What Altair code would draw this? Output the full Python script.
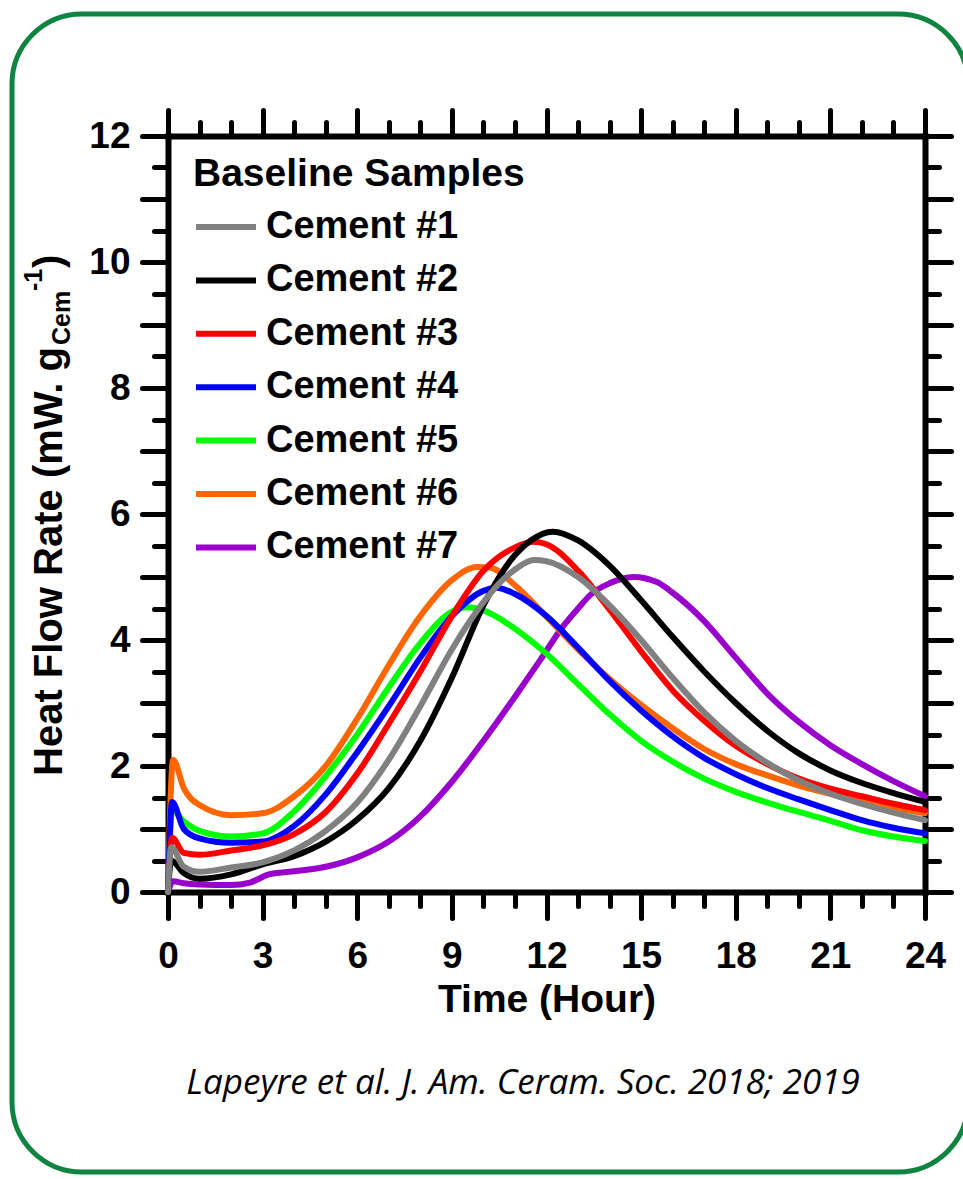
import altair as alt
import pandas as pd

names = ["Cement #1", "Cement #2", "Cement #3", "Cement #4", "Cement #5", "Cement #6", "Cement #7"]
colors = ["#808080", "#000000", "#ff0000", "#0000ff", "#00ff00", "#ff6600", "#9900cc"]

# Cement #1 (gray)
t1 = [0, 0.1, 0.5, 1, 2, 3, 4, 5, 6, 7, 8, 9, 10, 10.6, 11, 11.6, 12, 13, 14, 15, 16, 17, 18, 19, 20, 21, 22, 23, 24]
v1 = [0, 0.71, 0.40, 0.32, 0.39, 0.47, 0.66, 0.97, 1.42, 2.1, 2.95, 3.85, 4.6, 4.95, 5.12, 5.27, 5.25, 5.0, 4.55, 4.0, 3.4, 2.85, 2.4, 2.05, 1.77, 1.56, 1.4, 1.26, 1.14]
# Cement #2 (black)
t2 = [0, 0.1, 0.5, 1, 2, 3, 4, 5, 6, 7, 8, 9, 10, 10.5, 11, 11.5, 12.2, 13, 14, 15, 16, 17, 18, 19, 20, 21, 22, 23, 24]
v2 = [0, 0.5, 0.30, 0.21, 0.28, 0.44, 0.57, 0.80, 1.15, 1.65, 2.4, 3.4, 4.55, 5.0, 5.35, 5.58, 5.72, 5.58, 5.18, 4.63, 4.05, 3.5, 3.0, 2.56, 2.2, 1.93, 1.73, 1.57, 1.43]
# Cement #3 (red)
t3 = [0, 0.13, 0.5, 1, 2, 3, 4, 5, 6, 7, 8, 9, 10, 11, 11.6, 12, 13, 14, 15, 16, 17, 18, 19, 20, 21, 22, 23, 24]
v3 = [0, 0.86, 0.62, 0.59, 0.66, 0.74, 0.92, 1.27, 1.88, 2.67, 3.5, 4.38, 5.1, 5.47, 5.56, 5.52, 5.1, 4.48, 3.82, 3.2, 2.72, 2.32, 2.03, 1.8, 1.64, 1.52, 1.4, 1.30]
# Cement #4 (blue)
t4 = [0, 0.13, 0.5, 1, 2, 3, 4, 5, 6, 7, 8, 9, 10, 10.4, 11, 12, 13, 14, 15, 16, 17, 18, 19, 20, 21, 22, 23, 24]
v4 = [0, 1.43, 1.0, 0.85, 0.78, 0.80, 1.05, 1.55, 2.22, 2.95, 3.72, 4.38, 4.78, 4.83, 4.73, 4.38, 3.88, 3.35, 2.88, 2.47, 2.13, 1.87, 1.65, 1.47, 1.3, 1.14, 1.02, 0.93]
# Cement #5 (green)
t5 = [0, 0.13, 0.5, 1, 2, 3, 4, 5, 6, 7, 8, 9, 9.5, 10, 11, 12, 13, 14, 15, 16, 17, 18, 19, 20, 21, 22, 23, 24]
v5 = [0, 1.3, 1.12, 0.97, 0.88, 0.93, 1.28, 1.84, 2.5, 3.25, 3.95, 4.45, 4.52, 4.47, 4.18, 3.78, 3.3, 2.82, 2.4, 2.07, 1.8, 1.59, 1.42, 1.27, 1.13, 0.98, 0.88, 0.81]
# Cement #6 (orange)
t6 = [0, 0.16, 0.5, 1, 2, 3, 4, 5, 6, 7, 8, 9, 9.8, 10.2, 11, 12, 13, 14, 15, 16, 17, 18, 19, 20, 21, 22, 23, 24]
v6 = [0, 2.1, 1.65, 1.38, 1.22, 1.25, 1.52, 2.0, 2.75, 3.6, 4.38, 4.95, 5.16, 5.15, 4.87, 4.37, 3.85, 3.38, 2.97, 2.6, 2.27, 2.03, 1.85, 1.69, 1.56, 1.45, 1.34, 1.25]
# Cement #7 (purple)
t7 = [0, 0.16, 0.5, 1, 2, 2.6, 3.2, 3.6, 4, 5, 6, 7, 8, 9, 10, 11, 11.8, 12.5, 13, 13.4, 14, 14.75, 15.5, 16, 17, 18, 19, 20, 21, 22, 23, 24]
v7 = [0, 0.17, 0.14, 0.12, 0.11, 0.15, 0.28, 0.31, 0.33, 0.40, 0.55, 0.80, 1.2, 1.75, 2.4, 3.1, 3.68, 4.2, 4.5, 4.72, 4.9, 5.0, 4.92, 4.75, 4.3, 3.72, 3.15, 2.7, 2.33, 2.03, 1.76, 1.52]

x_major = list(range(0, 25, 3))
x_minor = list(range(0, 25))
y_major = list(range(0, 13))
y_minor = [i * 0.5 for i in range(25)]

legend_title = "Baseline Samples"
x_title = "Time (Hour)"
y_title_main = "Heat Flow Rate (mW. g"
y_title_sub = "Cem"
y_title_sup = "-1"
y_title_end = ")"
citation = "Lapeyre et al. J. Am. Ceram. Soc. 2018; 2019"

series = [(names[0], t1, v1), (names[1], t2, v2), (names[2], t3, v3), (names[3], t4, v4),
          (names[4], t5, v5), (names[5], t6, v6), (names[6], t7, v7)]
rows = []
for n, ts, vs in reversed(series):
    for t, v in zip(ts, vs):
        rows.append({"series": n, "t": t, "v": v})
df = pd.DataFrame(rows)

FONT = "Liberation Sans"
xs = alt.Scale(domain=[0, 24], nice=False, zero=False)
ys = alt.Scale(domain=[0, 12], nice=False, zero=False)

common = dict(domainColor="black", domainWidth=6, domainCap="square", tickColor="black",
              tickWidth=5, tickCap="round", grid=False, labelFlush=False, labelOverlap=False)

lines = alt.Chart(df).mark_line(strokeWidth=6, interpolate="monotone", strokeCap="round", strokeJoin="round").encode(
    x=alt.X("t:Q", scale=xs, axis=alt.Axis(orient="bottom", values=x_major, tickSize=26,
            labelFont=FONT, labelFontSize=37, labelFontWeight="bold", labelColor="black", labelPadding=20,
            title=x_title, titleFont=FONT, titleFontSize=39, titleFontWeight="bold", titleColor="black",
            titlePadding=6, **common)),
    y=alt.Y("v:Q", scale=ys, axis=alt.Axis(orient="left", values=y_major, tickSize=26,
            labelExpr="datum.value % 2 == 0 ? datum.label : ''",
            labelFont=FONT, labelFontSize=37, labelFontWeight="bold", labelColor="black", labelPadding=12,
            title=None, **common)),
    color=alt.Color("series:N", scale=alt.Scale(domain=names, range=colors),
                    legend=alt.Legend(orient="none", legendX=25, legendY=19, padding=0,
                                      title=legend_title, titleFont=FONT, titleFontSize=39,
                                      titleFontWeight="bold", titleColor="black", titlePadding=0,
                                      titleLimit=0,
                                      labelFont=FONT, labelFontSize=38, labelFontWeight="bold",
                                      labelColor="black", labelOffset=7, labelLimit=0,
                                      symbolType="stroke", symbolStrokeWidth=6, symbolSize=3600,
                                      rowPadding=1.4)),
)

def tick_layer(xaxis, yaxis):
    return alt.Chart(df).mark_line(opacity=0).encode(
        x=alt.X("t:Q", scale=xs, axis=xaxis),
        y=alt.Y("v:Q", scale=ys, axis=yaxis),
    )

minor_bl = tick_layer(
    alt.Axis(orient="bottom", values=x_minor, tickSize=14, labels=False, domain=False, title=None, **common),
    alt.Axis(orient="left", values=y_minor, tickSize=14, labels=False, domain=False, title=None, **common),
)
major_tr = tick_layer(
    alt.Axis(orient="top", values=x_major, tickSize=26, labels=False, title=None, **common),
    alt.Axis(orient="right", values=y_major, tickSize=26, labels=False, title=None, **common),
)
minor_tr = tick_layer(
    alt.Axis(orient="top", values=x_minor, tickSize=14, labels=False, domain=False, title=None, **common),
    alt.Axis(orient="right", values=y_minor, tickSize=14, labels=False, domain=False, title=None, **common),
)

one = alt.Data(values=[{"a": 1}])

border = alt.Chart(one).mark_rect(cornerRadius=70, fill="white", fillOpacity=0, stroke="#0e8440",
                                  strokeWidth=5).encode(
    x=alt.value(-156), x2=alt.value(800), y=alt.value(-122), y2=alt.value(1036))

def txt(text, x, y, size, align, angle=0, style="normal", weight="bold", font=FONT, baseline="alphabetic"):
    return alt.Chart(one).mark_text(text=text, fontSize=size, font=font, fontWeight=weight, fontStyle=style,
                                    align=align, baseline=baseline, angle=angle, color="black").encode(
        x=alt.value(x), y=alt.value(y))

yt_main = txt(y_title_main, -106, 211, 40, "right", angle=270)
yt_sub = txt(y_title_sub, -98, 209, 25, "left", angle=270)
yt_sup = txt(y_title_sup, -126, 155, 25, "left", angle=270)
yt_end = txt(y_title_end, -106, 132, 40, "left", angle=270)
cite = txt(citation, 355, 947, 35, "center", style="italic", weight="normal", font="Open Sans", baseline="middle")

chart = alt.layer(border, lines, minor_bl, major_tr, minor_tr, yt_main, yt_sub, yt_sup, yt_end, cite).resolve_axis(
    x="independent", y="independent"
).properties(
    width=757, height=756,
    autosize=alt.AutoSizeParams(type="none"),
    padding={"left": 168, "top": 136, "right": 38, "bottom": 287},
    background="white",
).configure_view(stroke=None)

chart.save("out.html", embed_options={"renderer": "svg", "actions": False})
